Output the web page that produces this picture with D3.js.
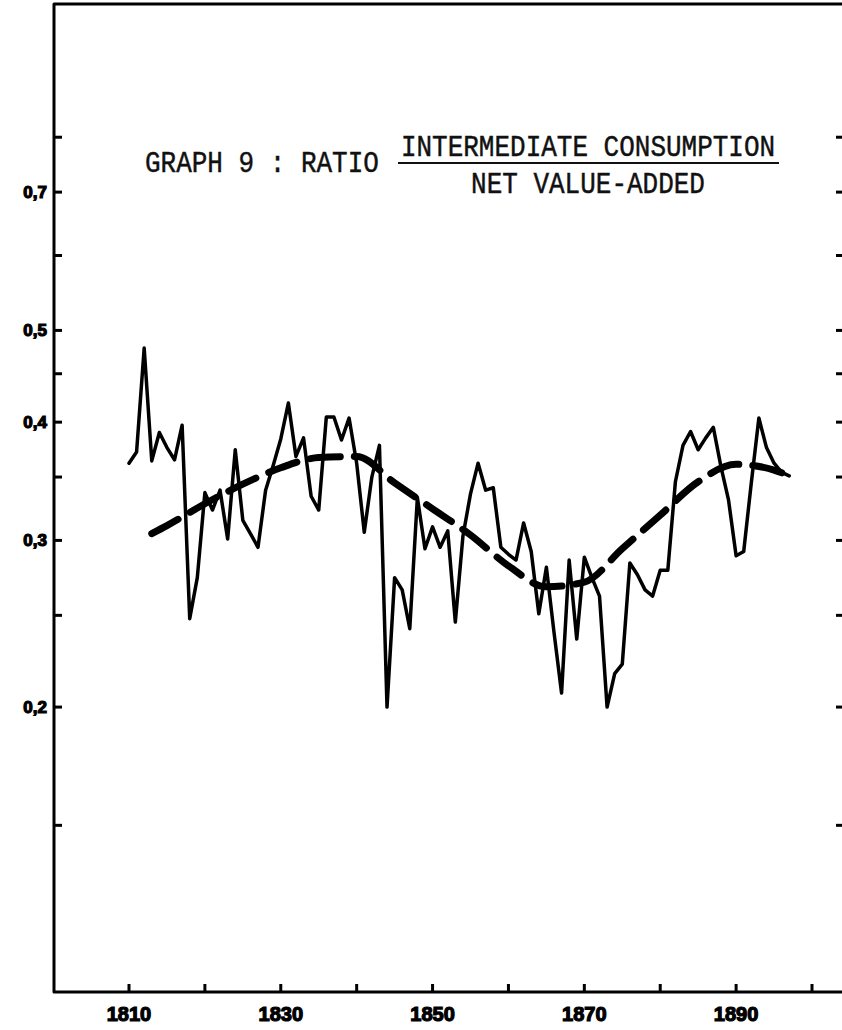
<!DOCTYPE html>
<html>
<head>
<meta charset="utf-8">
<script src="https://cdn.jsdelivr.net/npm/d3@7"></script>
<style>
  body { margin: 0; background: #fff; }
  svg { display: block; }
  .title { font-family: "Liberation Mono", "DejaVu Sans Mono", monospace; font-size: 26px; fill: #111; stroke: #111; stroke-width: 0.4px; }
  .tick-label { font-family: "Liberation Sans", Arial, sans-serif; font-weight: bold; fill: #000; stroke: #000; stroke-width: 1.2px; }
</style>
</head>
<body>
<script>
// annual ratio, 1810 - 1897
var firstYear = 1810;
var ratio = [
  0.362, 0.372, 0.479, 0.364, 0.390, 0.376, 0.365, 0.397, 0.248, 0.274,
  0.337, 0.323, 0.339, 0.301, 0.374, 0.315, 0.305, 0.295, 0.339, 0.360,
  0.384, 0.419, 0.368, 0.385, 0.334, 0.323, 0.405, 0.405, 0.383, 0.404,
  0.362, 0.306, 0.350, 0.378, 0.200, 0.274, 0.266, 0.242, 0.333, 0.294,
  0.310, 0.295, 0.307, 0.246, 0.303, 0.336, 0.362, 0.339, 0.341, 0.295,
  0.290, 0.286, 0.313, 0.292, 0.251, 0.281, 0.240, 0.207, 0.286, 0.236,
  0.288, 0.274, 0.262, 0.200, 0.217, 0.222, 0.284, 0.276, 0.266, 0.262,
  0.279, 0.279, 0.346, 0.378, 0.391, 0.374, 0.385, 0.395, 0.359, 0.331,
  0.289, 0.292, 0.345, 0.404, 0.376, 0.362, 0.354, 0.351
];

// smoothed trend (dashed)
var trendYears = [1813, 1815, 1820, 1825, 1830, 1835, 1840, 1845, 1850, 1855,
                  1860, 1865, 1870, 1875, 1880, 1885, 1890, 1895, 1897];
var trendValues = [0.305, 0.311, 0.328, 0.344, 0.358, 0.367, 0.368, 0.345, 0.324, 0.304,
                   0.282, 0.268, 0.271, 0.294, 0.319, 0.346, 0.361, 0.356, 0.351];

var yTicks = [0.8, 0.7, 0.6, 0.5, 0.45, 0.4, 0.35, 0.3, 0.25, 0.2, 0.15];
var yLabels = [0.7, 0.5, 0.4, 0.3, 0.2];
var xTicks = [1810, 1820, 1830, 1840, 1850, 1860, 1870, 1880, 1890, 1900];
var xLabels = [1810, 1830, 1850, 1870, 1890];

var width = 842, height = 1030;
// note: "top" is taken by window.top, so prefix the frame edges
var frameL = 54, frameR = 842, frameT = 4, frameB = 992;

var svg = d3.select("body").append("svg")
    .attr("width", width)
    .attr("height", height);

var x = d3.scaleLinear().domain([1810, 1900]).range([129, 812]);
var y = d3.scaleLog().domain([0.1, 1]).range([frameB, frameB - 946.5]);

var series = ratio.map(function(v, i) { return {year: firstYear + i, value: v}; });
var trend = trendYears.map(function(t, i) { return {year: t, value: trendValues[i]}; });

// frame: top, left and bottom edges only
svg.append("path")
    .attr("d", "M" + frameR + "," + frameT + "H" + frameL + "V" + frameB + "H" + frameR)
    .attr("fill", "none")
    .attr("stroke", "#000")
    .attr("stroke-width", 3)
    .attr("stroke-linejoin", "round");

// y ticks, both sides, pointing inward
svg.selectAll(".ytick-l")
    .data(yTicks).enter().append("line")
    .attr("x1", frameL).attr("x2", frameL + 8)
    .attr("y1", function(d) { return y(d); })
    .attr("y2", function(d) { return y(d); })
    .attr("stroke", "#000").attr("stroke-width", 3);

svg.selectAll(".ytick-r")
    .data(yTicks).enter().append("line")
    .attr("x1", frameR).attr("x2", frameR - 6)
    .attr("y1", function(d) { return y(d); })
    .attr("y2", function(d) { return y(d); })
    .attr("stroke", "#000").attr("stroke-width", 3);

svg.selectAll(".ylab")
    .data(yLabels).enter().append("text")
    .attr("class", "tick-label")
    .attr("x", frameL - 7)
    .attr("y", function(d) { return y(d); })
    .attr("dy", "0.35em")
    .attr("text-anchor", "end")
    .style("font-size", "17px")
    .text(function(d) { return d3.format(".1f")(d).replace(".", ","); });

// x ticks
svg.selectAll(".xtick")
    .data(xTicks).enter().append("line")
    .attr("x1", function(d) { return x(d); })
    .attr("x2", function(d) { return x(d); })
    .attr("y1", frameB).attr("y2", frameB - 8)
    .attr("stroke", "#000").attr("stroke-width", 3);

svg.selectAll(".xlab")
    .data(xLabels).enter().append("text")
    .attr("class", "tick-label")
    .attr("x", function(d) { return x(d); })
    .attr("y", 1021)
    .attr("text-anchor", "middle")
    .style("font-size", "20px")
    .text(function(d) { return d; });

// trend, thick dashes
var trendLine = d3.line()
    .x(function(d) { return x(d.year); })
    .y(function(d) { return y(d.value); })
    .curve(d3.curveMonotoneX);

svg.append("path")
    .datum(trend)
    .attr("d", trendLine)
    .attr("fill", "none")
    .attr("stroke", "#000")
    .attr("stroke-width", 7)
    .attr("stroke-linecap", "round")
    .attr("stroke-dasharray", "30,14");

// annual series
var line = d3.line()
    .x(function(d) { return x(d.year); })
    .y(function(d) { return y(d.value); });

svg.append("path")
    .datum(series)
    .attr("d", line)
    .attr("fill", "none")
    .attr("stroke", "#000")
    .attr("stroke-width", 3.5)
    .attr("stroke-linejoin", "round")
    .attr("stroke-linecap", "round");

// title
var title = svg.append("g");
title.append("text")
    .attr("class", "title")
    .attr("transform", "translate(145,172) scale(1,1.15)")
    .text("GRAPH 9 : RATIO");
title.append("text")
    .attr("class", "title")
    .attr("text-anchor", "middle")
    .attr("transform", "translate(588,156) scale(1,1.15)")
    .text("INTERMEDIATE CONSUMPTION");
title.append("line")
    .attr("x1", 398).attr("x2", 779)
    .attr("y1", 163).attr("y2", 163)
    .attr("stroke", "#111").attr("stroke-width", 2);
title.append("text")
    .attr("class", "title")
    .attr("text-anchor", "middle")
    .attr("transform", "translate(588,193) scale(1,1.15)")
    .text("NET VALUE-ADDED");
</script>
</body>
</html>
